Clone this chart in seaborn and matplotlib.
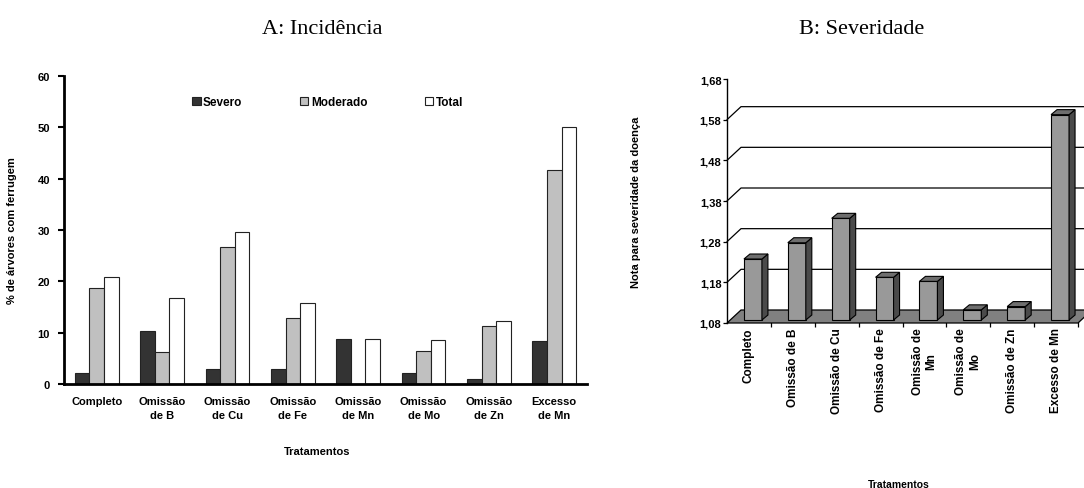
import numpy as np
import pandas as pd
import matplotlib.pyplot as plt
import seaborn as sns
from matplotlib.patches import Polygon

sns.set_theme(style="white")
plt.rcParams['font.family'] = ['Liberation Sans', 'DejaVu Sans']
plt.rcParams.update({
    "text.color": "black",
    "axes.labelcolor": "black",
    "xtick.color": "black",
    "ytick.color": "black",
})

# ---- data ----
tratamentos_a = ["Completo", "Omissão\nde B", "Omissão\nde Cu", "Omissão\nde Fe",
                 "Omissão\nde Mn", "Omissão\nde Mo", "Omissão\nde Zn", "Excesso\nde Mn"]
severo = [2.1, 10.4, 2.9, 2.9, 8.7, 2.1, 1.0, 8.3]
moderado = [18.7, 6.3, 26.7, 12.8, 0.0, 6.4, 11.3, 41.7]
total = [20.8, 16.7, 29.6, 15.7, 8.7, 8.5, 12.3, 50.0]

tratamentos_b = ["Completo", "Omissão de B", "Omissão de Cu", "Omissão de Fe",
                 "Omissão de\nMn", "Omissão de\nMo", "Omissão de Zn", "Excesso de Mn"]
nota = [1.23, 1.27, 1.33, 1.185, 1.175, 1.105, 1.113, 1.585]
yticks_b = [1.08, 1.18, 1.28, 1.38, 1.48, 1.58, 1.68]

W, H = 1084, 489
fig = plt.figure(figsize=(W / 100, H / 100), dpi=100)

# ---- A: Incidencia ----
df = pd.DataFrame({
    "trat": tratamentos_a * 3,
    "grupo": ["Severo"] * 8 + ["Moderado"] * 8 + ["Total"] * 8,
    "valor": severo + moderado + total,
})
ax1 = fig.add_axes([64 / W, 1 - 385 / H, (587 - 64) / W, (385 - 77) / H])
sns.barplot(data=df, x="trat", y="valor", hue="grupo", ax=ax1, width=0.67,
            palette={"Severo": "#333333", "Moderado": "#c0c0c0", "Total": "#ffffff"},
            edgecolor="#222222", linewidth=0.8, saturation=1, errorbar=None)
ax1.set_xlim(-0.5, 7.5)
ax1.set_ylim(0, 60)
ax1.set_yticks(range(0, 61, 10))
ax1.set_yticklabels([str(v) for v in range(0, 61, 10)], fontweight="bold", fontsize=8)
ax1.set_xticks(range(8))
ax1.set_xticklabels(tratamentos_a, fontweight="bold", fontsize=8, linespacing=1.5)
ax1.set_xticks(np.arange(0.5, 8, 1), minor=True)
ax1.tick_params(axis="x", which="major", length=0, pad=9)
ax1.tick_params(axis="x", which="minor", length=6, width=1.5, direction="inout", color="black")
ax1.tick_params(axis="y", which="major", length=4, width=1.5, direction="out", color="black", pad=6, left=True)
for s in ["top", "right"]:
    ax1.spines[s].set_visible(False)
for s in ["left", "bottom"]:
    ax1.spines[s].set_color("black")
    ax1.spines[s].set_linewidth(2)
ax1.set_xlabel("Tratamentos", fontweight="bold", fontsize=8)
ax1.xaxis.set_label_coords(0.484, -0.2)
ax1.set_ylabel("% de árvores com ferrugem", fontweight="bold", fontsize=8)
ax1.yaxis.set_label_coords(-0.09, 0.5)
leg = ax1.legend(ncol=3, frameon=False, loc="upper left", bbox_to_anchor=(0.225, 0.97),
                 handlelength=0.7, handleheight=0.7, handletextpad=0.2, columnspacing=4.9,
                 prop={"weight": "bold", "size": 8.5})
for h in leg.legend_handles:
    h.set_edgecolor("#222222")
    h.set_linewidth(0.8)

# ---- B: Severidade (pseudo 3D) ----
ax2 = fig.add_axes([727 / W, 1 - 324 / H, (1078 - 727) / W, (324 - 80) / H])
ax2.set_xlim(-0.5, 7.5)
ax2.set_ylim(1.08, 1.68)
pos = ax2.get_position()
px_x = pos.width * W / 8.0      # pixels per category
px_y = pos.height * H / 0.6     # pixels per unit
dx, dy = 14 / px_x, 13 / px_y            # wall depth
bdx, bdy = 6 / px_x, 5 / px_y            # bar depth
sx, sy = 4 / px_x, 3 / px_y              # bar set back from front
y0 = yticks_b[0]

floor = Polygon([(-0.5, y0), (7.5, y0), (7.5 + dx, y0 + dy), (-0.5 + dx, y0 + dy)],
                closed=True, facecolor="#808080", edgecolor="black", lw=0.9,
                clip_on=False, zorder=1)
ax2.add_patch(floor)
for v in yticks_b[1:-1]:
    ax2.plot([-0.5, -0.5 + dx, 7.5 + dx + 1], [v, v + dy, v + dy], color="black",
             lw=0.9, clip_on=False, zorder=0.5)

sns.barplot(x=tratamentos_b, y=nota, ax=ax2, color="#999999", saturation=1,
            width=0.41, edgecolor="black", linewidth=0.8, errorbar=None)
ax2.set_xlim(-0.5, 7.5)
ax2.set_ylim(1.08, 1.68)
for p in list(ax2.patches):
    if p is floor:
        continue
    top = p.get_height()
    x0 = p.get_x() + sx
    x1 = x0 + p.get_width()
    p.set_x(x0)
    p.set_y(y0 + sy)
    p.set_height(top - y0)
    p.set_zorder(3)
    p.set_clip_on(False)
    t = top + sy
    ax2.add_patch(Polygon([(x1, y0 + sy), (x1 + bdx, y0 + sy + bdy), (x1 + bdx, t + bdy), (x1, t)],
                          closed=True, facecolor="#4a4a4a", edgecolor="black", lw=0.8,
                          zorder=3, clip_on=False))
    ax2.add_patch(Polygon([(x0, t), (x0 + bdx, t + bdy), (x1 + bdx, t + bdy), (x1, t)],
                          closed=True, facecolor="#6e6e6e", edgecolor="black", lw=0.8,
                          zorder=3, clip_on=False))

ax2.set_yticks(yticks_b)
ax2.set_yticklabels([f"{v:.2f}".replace(".", ",") for v in yticks_b], fontweight="bold", fontsize=8)
ax2.tick_params(axis="y", length=3, width=0.9, direction="out", color="black", pad=1, left=True)
ax2.set_xticks(range(8))
ax2.set_xticklabels(tratamentos_b, rotation=90, fontweight="bold", fontsize=8.5,
                    va="top", ha="center", multialignment="center")
ax2.set_xticks(np.arange(0.5, 7.6, 1), minor=True)
ax2.tick_params(axis="x", which="major", length=0, pad=3)
ax2.tick_params(axis="x", which="minor", length=6, width=0.9, direction="inout", color="black", bottom=True)
for s in ["top", "right", "bottom"]:
    ax2.spines[s].set_visible(False)
ax2.spines["left"].set_color("black")
ax2.spines["left"].set_linewidth(1)
ax2.set_xlabel("Tratamentos", fontweight="bold", fontsize=7.5)
ax2.xaxis.set_label_coords(0.49, -0.64)
ax2.set_ylabel("Nota para severidade da doença", fontweight="bold", fontsize=8)
ax2.yaxis.set_label_coords(-0.245, 0.5)

# ---- titles ----
fig.text(322 / W, 1 - 30 / H, "A: Incidência", family=["Liberation Serif", "DejaVu Serif"],
         fontsize=16, ha="center", va="center")
fig.text(862 / W, 1 - 30 / H, "B: Severidade", family=["Liberation Serif", "DejaVu Serif"],
         fontsize=16, ha="center", va="center")

fig.savefig("out.png", dpi=100)
